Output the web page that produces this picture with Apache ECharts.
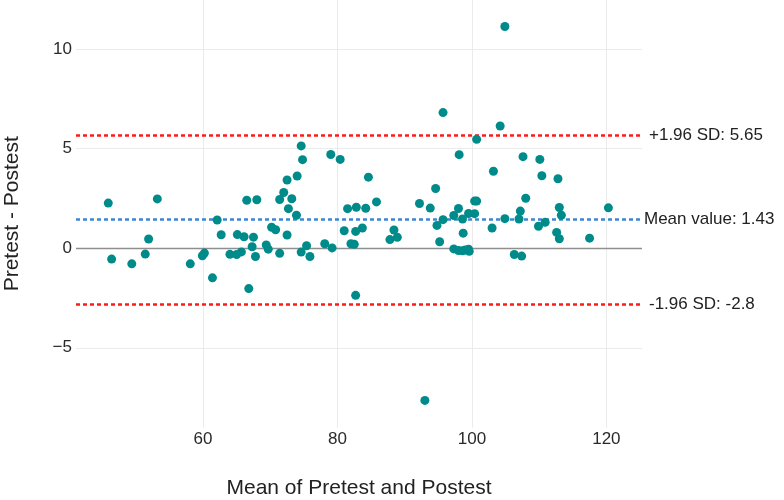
<!DOCTYPE html>
<html>
<head>
<meta charset="utf-8">
<title>Bland-Altman</title>
<script src="https://cdn.jsdelivr.net/npm/echarts@6/dist/echarts.min.js"></script>
<style>
  html, body { margin: 0; padding: 0; background: #fff; }
  #chart { width: 784px; height: 500px; }
</style>
</head>
<body>
<div id="chart"></div>
<script>
// mean of pretest and postest (x) / pretest - postest (y)
var meanVals = [45.9, 46.4, 49.4, 51.4, 51.9, 53.2, 58.1, 59.9, 60.2, 61.4,
  62.1, 62.7, 64.0, 65.0, 65.1, 65.7, 66.1, 66.5, 66.8, 67.3,
  67.5, 67.8, 68.0, 69.4, 69.7, 70.2, 70.8, 71.4, 71.4, 72.0,
  72.5, 72.5, 72.7, 73.2, 73.9, 74.0, 74.6, 74.6, 74.8, 75.4,
  75.9, 78.1, 79.0, 79.2, 80.4, 81.0, 81.5, 82.0, 82.5, 82.8,
  82.7, 82.7, 83.7, 84.2, 84.6, 85.8, 87.8, 88.4, 88.9, 92.2,
  93.0, 93.8, 94.6, 94.8, 95.2, 95.7, 95.7, 97.3, 97.3, 98.1,
  98.0, 98.0, 98.6, 98.7, 98.6, 99.0, 99.5, 99.5, 99.6, 100.4,
  100.4, 100.7, 100.7, 103.0, 103.2, 104.2, 104.9, 104.9, 106.3, 107.0,
  107.2, 107.4, 107.6, 108.0, 109.9, 110.1, 110.4, 110.9, 112.6, 112.8,
  113.0, 113.0, 113.3, 117.5, 120.3];
var diffVals = [2.26, -0.55, -0.79, -0.30, 0.46, 2.47, -0.79, -0.38, -0.25, -1.49,
  1.41, 0.67, -0.31, -0.32, 0.68, -0.19, 0.57, 2.40, -2.03, 0.07,
  0.55, -0.42, 2.43, 0.16, -0.05, 1.05, 0.92, 2.44, -0.26, 2.79,
  3.42, 0.66, 1.98, 2.48, 1.65, 3.62, 5.13, -0.20, 4.44, 0.12,
  -0.42, 0.22, 4.70, 0.01, 4.45, 0.87, 1.98, 0.22, 0.19, 2.05,
  0.84, -2.37, 1.01, 2.00, 3.56, 2.32, 0.43, 0.91, 0.54, 2.24,
  -7.64, 2.01, 2.99, 1.14, 0.32, 6.80, 1.43, 1.64, -0.04, 4.69,
  1.99, -0.12, 1.46, 0.75, -0.13, -0.09, 1.74, -0.05, -0.16, 1.73,
  2.36, 2.36, 5.46, 1.01, 3.86, 6.13, 11.12, 1.48, -0.32, 1.46,
  1.86, -0.40, 4.59, 2.50, 1.10, 4.45, 3.63, 1.30, 0.79, 3.48,
  0.47, 2.04, 1.65, 0.50, 2.02];

var xTicks = [60, 80, 100, 120];
var yTicks = [-5, 0, 5, 10];

var meanDiff = 1.43;
var upperLoA = 5.65;
var lowerLoA = -2.8;

var points = meanVals.map(function (m, i) { return [m, diffVals[i]]; });

var chart = echarts.init(document.getElementById('chart'));

var lblFont = { color: '#222', fontSize: 17, fontFamily: 'Liberation Sans, Arial, sans-serif' };

chart.setOption({
  animation: false,
  textStyle: { fontFamily: 'Liberation Sans, Arial, sans-serif' },
  grid: { left: 76, right: 142, top: 0, bottom: 72.5, outerBoundsMode: 'none', containLabel: false },
  xAxis: {
    type: 'value',
    min: 41.1,
    max: 125.3,
    name: 'Mean of Pretest and Postest',
    nameLocation: 'middle',
    nameGap: 50,
    nameTextStyle: { fontSize: 21, color: '#222' },
    axisLine: { show: false },
    axisTick: { show: false, customValues: xTicks },
    axisLabel: { customValues: xTicks, fontSize: 17, color: '#2a2a2a', margin: 3 },
    splitLine: { show: true, lineStyle: { color: '#ebebeb', width: 1 } }
  },
  yAxis: {
    type: 'value',
    min: -9,
    max: 12.45,
    name: 'Pretest - Postest',
    nameLocation: 'middle',
    nameGap: 53,
    nameTextStyle: { fontSize: 21, color: '#222' },
    axisLine: { show: false },
    axisTick: { show: false, customValues: yTicks },
    axisLabel: {
      customValues: yTicks, fontSize: 17, color: '#2a2a2a', margin: 4,
      formatter: function (v) { return String(v).replace('-', '\u2212'); }
    },
    splitLine: { show: true, lineStyle: { color: '#ebebeb', width: 1 } }
  },
  series: [
    {
      // reference lines
      type: 'scatter',
      data: [],
      z: 1,
      markLine: {
        silent: true,
        symbol: 'none',
        animation: false,
        data: [
          { yAxis: 0, lineStyle: { color: '#8f8f8f', type: 'solid', width: 1.3 }, label: { show: false } },
          {
            yAxis: upperLoA,
            lineStyle: { color: '#ff1a1a', type: [4, 3], width: 2.5 },
            label: Object.assign({ show: true, position: 'end', distance: 7, formatter: '+1.96 SD: 5.65' }, lblFont)
          },
          {
            yAxis: meanDiff,
            lineStyle: { color: '#3d86d6', type: [4, 3], width: 2.5 },
            label: Object.assign({ show: true, position: 'end', distance: 2, formatter: 'Mean value: 1.43' }, lblFont)
          },
          {
            yAxis: lowerLoA,
            lineStyle: { color: '#ff1a1a', type: [4, 3], width: 2.5 },
            label: Object.assign({ show: true, position: 'end', distance: 7, formatter: '-1.96 SD: -2.8' }, lblFont)
          }
        ]
      }
    },
    {
      type: 'scatter',
      data: points,
      symbolSize: 9,
      z: 10,
      itemStyle: { color: '#008b8b', opacity: 1 }
    }
  ]
});
</script>
</body>
</html>
